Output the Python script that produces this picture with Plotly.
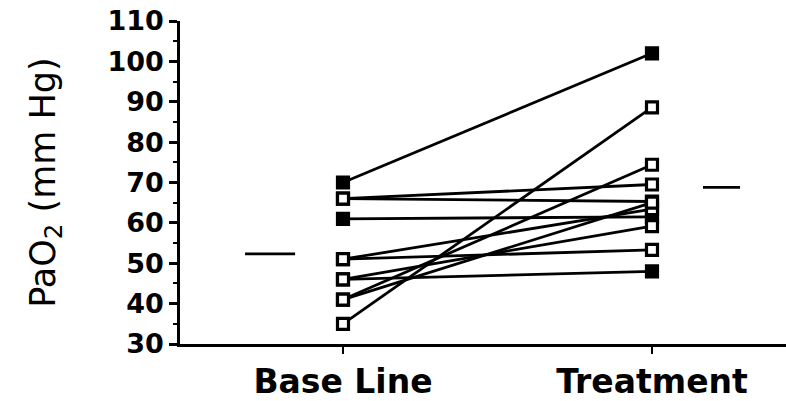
import plotly.graph_objects as go

# ---- data ----
categories = ["Base Line", "Treatment"]
base_line = [70, 66, 61, 46, 66, 51, 51, 46, 41, 41, 35]
treatment = [102, 65.3, 61.5, 48, 69.5, 53.3, 63.4, 59.2, 65, 74.4, 88.6]
filled = [True, True, True, True, False, False, False, False, False, False, False]
group_means = [52.3, 68.8]
y_ticks = [30, 40, 50, 60, 70, 80, 90, 100, 110]

fig = go.Figure()

xpos = list(range(len(categories)))

for b, t, f in zip(base_line, treatment, filled):
    fig.add_trace(go.Scatter(
        x=xpos, y=[b, t], mode="lines+markers",
        line=dict(color="black", width=2.8),
        marker=dict(symbol="square", size=11,
                    color="black" if f else "white",
                    line=dict(color="black", width=3.2)),
        showlegend=False, hoverinfo="skip"))

# group mean dashes, placed beside each category
mean_offsets = [(-0.317, -0.155), (0.165, 0.285)]
for i, (m, (a, c)) in enumerate(zip(group_means, mean_offsets)):
    fig.add_trace(go.Scatter(
        x=[xpos[i] + a, xpos[i] + c], y=[m, m], mode="lines",
        line=dict(color="black", width=2.8),
        showlegend=False, hoverinfo="skip"))

fig.update_layout(
    width=786, height=401,
    margin=dict(l=180, r=0, t=21, b=54),
    paper_bgcolor="white", plot_bgcolor="white",
    font=dict(family="DejaVu Sans", color="black"),
    xaxis=dict(
        range=[-0.5275, 1.4337],
        tickvals=xpos, ticktext=categories,
        showline=True, linecolor="black", linewidth=2.5,
        ticks="outside", ticklen=7, tickwidth=2, tickcolor="black",
        showgrid=False, zeroline=False,
        tickfont=dict(family="DejaVu Sans", size=33, weight="bold"),
    ),
    yaxis=dict(
        range=[30, 110],
        tickvals=y_ticks,
        showline=True, linecolor="black", linewidth=2.5,
        ticks="outside", ticklen=8, tickwidth=2.5, tickcolor="black",
        minor=dict(dtick=5, ticks="outside", ticklen=4, tickwidth=2, tickcolor="black"),
        showgrid=False, zeroline=False,
        tickfont=dict(family="DejaVu Sans", size=27, weight="bold"),
        title=dict(text="PaO<sub>2</sub> (mm Hg)", standoff=42,
                   font=dict(family="DejaVu Sans", size=35)),
    ),
)

fig.write_html("out.html")
